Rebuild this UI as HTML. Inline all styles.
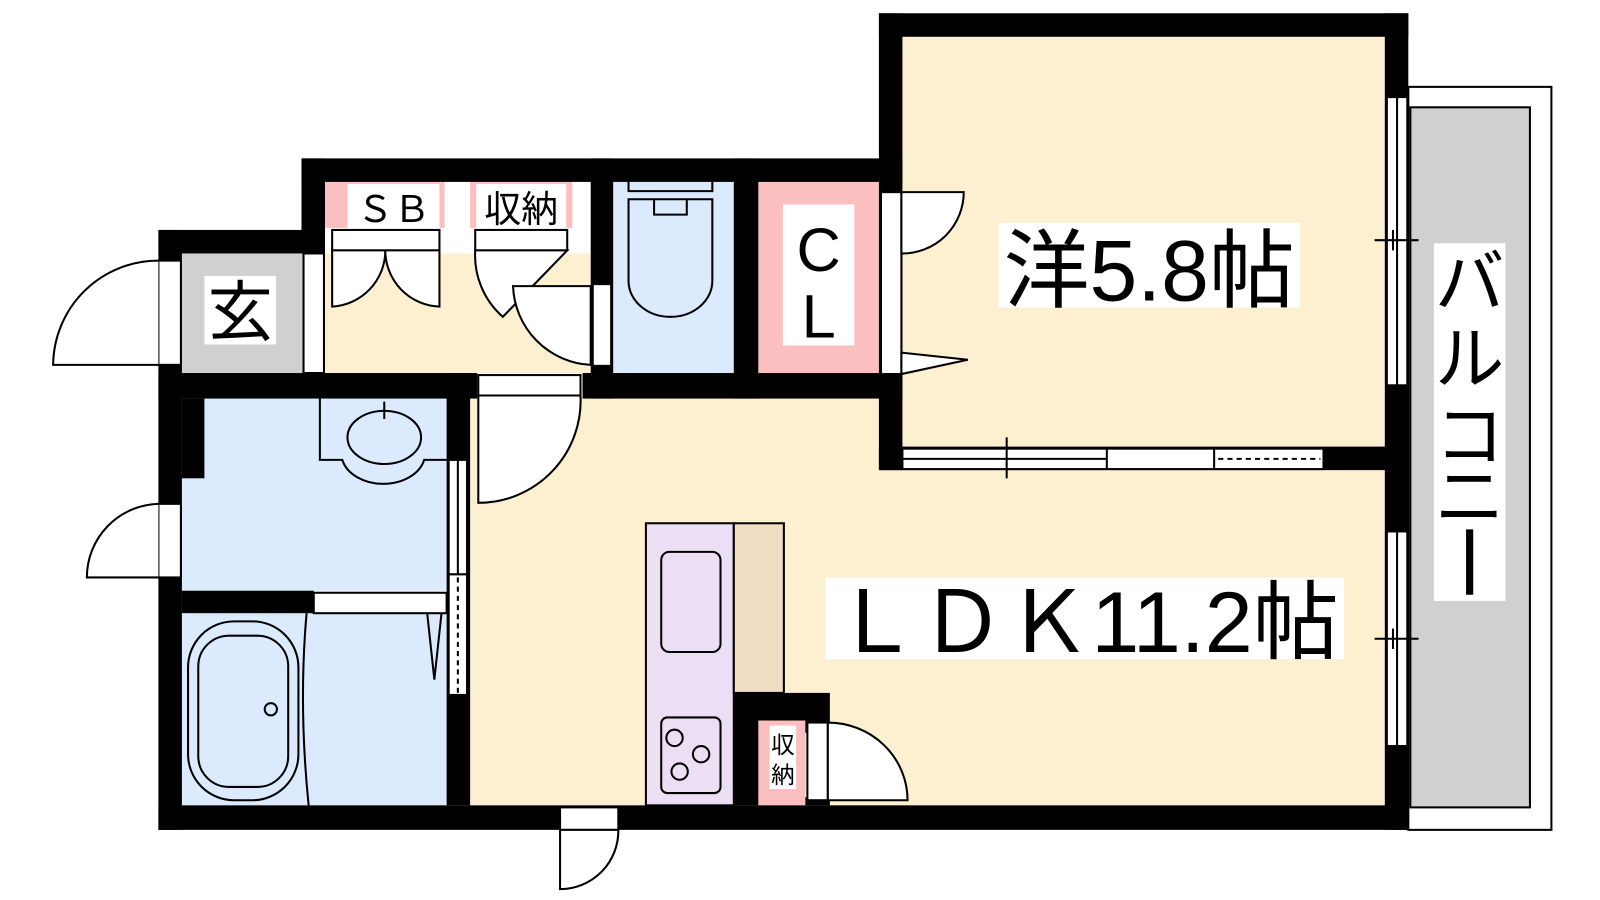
<!DOCTYPE html>
<html><head><meta charset="utf-8"><style>html,body{margin:0;padding:0;background:#fff}svg{display:block}</style></head><body>
<svg width="1600" height="900" viewBox="0 0 1600 900" xmlns="http://www.w3.org/2000/svg" font-family="'Liberation Sans','Noto Sans CJK JP',sans-serif">
<rect width="1600" height="900" fill="#fff"/>
<g transform="scale(1.022)">
<rect x="883" y="36" width="472" height="402" fill="#fdf0d1"/>
<rect x="460" y="390" width="895" height="398" fill="#fdf0d1"/>
<rect x="318" y="248" width="260" height="117" fill="#fdf0d1"/>
<rect x="178" y="248" width="118" height="117" fill="#d0d0d0"/>
<rect x="600" y="178" width="118" height="187" fill="#dbeafd"/>
<rect x="742" y="178" width="118" height="187" fill="#fbbfbf"/>
<rect x="318" y="178" width="117" height="45" fill="#fbbfbf"/>
<rect x="460" y="178" width="100" height="45" fill="#fbbfbf"/>
<rect x="178" y="390" width="259" height="188" fill="#dbeafd"/>
<rect x="178" y="600" width="259" height="188" fill="#dbeafd"/>
<rect x="632" y="512" width="86" height="276" fill="#ecdff5" stroke="#000" stroke-width="2"/>
<rect x="718" y="512" width="49" height="166" fill="#efdec3" stroke="#000" stroke-width="2"/>
<rect x="742" y="705" width="46" height="83" fill="#fbbfbf"/>
<rect x="1378" y="85" width="140" height="727" fill="#fff" stroke="#000" stroke-width="2"/>
<rect x="1380" y="105" width="117" height="685" fill="#d0d0d0" stroke="#000" stroke-width="2"/>
<g fill="#000">
<rect x="860" y="13" width="518" height="23"/>
<rect x="860" y="13" width="23" height="447"/>
<rect x="1355" y="13" width="23" height="799"/>
<rect x="295" y="155" width="588" height="23"/>
<rect x="295" y="155" width="23" height="93"/>
<rect x="155" y="225" width="163" height="23"/>
<rect x="155" y="225" width="23" height="587"/>
<rect x="155" y="788" width="1223" height="24"/>
<rect x="155" y="365" width="312" height="25"/>
<rect x="570" y="365" width="313" height="25"/>
<rect x="578" y="155" width="22" height="235"/>
<rect x="718" y="155" width="24" height="235"/>
<rect x="437" y="365" width="23" height="423"/>
<rect x="178" y="390" width="22" height="78"/>
<rect x="178" y="578" width="129" height="22"/>
<rect x="860" y="437" width="518" height="23"/>
<rect x="718" y="678" width="94" height="27"/>
<rect x="718" y="705" width="24" height="83"/>
<rect x="788" y="705" width="24" height="12"/>
<rect x="788" y="780" width="24" height="8"/>
</g>
<g fill="#fff" stroke="#000" stroke-width="2">
<rect x="155" y="255" width="22" height="102"/>
<rect x="155" y="493" width="22" height="72"/>
<rect x="297" y="248" width="20" height="117"/>
<rect x="325" y="225" width="105" height="20"/>
<rect x="465" y="225" width="90" height="20"/>
<rect x="580" y="278" width="18" height="80"/>
<rect x="468" y="367" width="100" height="20"/>
<rect x="862" y="188" width="20" height="178"/>
<rect x="439" y="450" width="18" height="112"/>
<rect x="439" y="562" width="18" height="118"/>
<rect x="307" y="580" width="130" height="20"/>
<rect x="548" y="790" width="57" height="22"/>
<rect x="790" y="707" width="20" height="76"/>
<rect x="1357" y="95" width="20" height="282"/>
<rect x="1357" y="520" width="20" height="210"/>
<rect x="883" y="439" width="412" height="20"/>
</g>
<g fill="none" stroke="#000" stroke-width="2">
<line x1="1367" y1="95" x2="1367" y2="377"/><line x1="1367" y1="520" x2="1367" y2="730"/>
<line x1="1345" y1="235" x2="1388" y2="235"/><line x1="1363" y1="225" x2="1363" y2="245"/>
<line x1="1345" y1="625" x2="1388" y2="625"/><line x1="1363" y1="615" x2="1363" y2="635"/>
<line x1="883" y1="449" x2="1083" y2="449"/><line x1="1083" y1="439" x2="1083" y2="459"/><line x1="1188" y1="439" x2="1188" y2="459"/>
<line x1="985" y1="428" x2="985" y2="468"/>
<line x1="1192" y1="449" x2="1292" y2="449" stroke-dasharray="5,4"/>
<line x1="448" y1="565" x2="448" y2="678" stroke-dasharray="5,4"/>
<line x1="448" y1="450" x2="448" y2="562"/>
<path d="M155 357 L52 357 A103 103 0 0 1 155 255" fill="#fff"/>
<path d="M155 565 L85 565 A72 72 0 0 1 155 493" fill="#fff"/>
<path d="M325 245 L325 300 A55 55 0 0 0 377 245 Z" fill="#fff"/>
<path d="M430 245 L430 300 A55 55 0 0 1 377 245 Z" fill="#fff"/>
<path d="M465 245 A80 80 0 0 0 492 310 L555 245 Z" fill="#fff"/>
<path d="M578 357 A80 80 0 0 1 502 280 L578 280 Z" fill="#fff"/>
<path d="M468 387 L568 387 A100 100 0 0 1 468 492 Z" fill="#fff"/>
<path d="M882 188 L943 188 A60 60 0 0 1 882 248 Z" fill="#fff"/>
<path d="M882 345 L947 352 L882 366 Z" fill="#fff"/>
<path d="M548 812 L548 870 A57 57 0 0 0 605 812 Z" fill="#fff"/>
<path d="M810 707 A78 76 0 0 1 888 783 L810 783 Z" fill="#fff"/>
<path d="M418 600 L425 665 L432 600"/>
<path d="M615 178 L615 187 L697 187 L697 178"/>
<path d="M615 195 L697 195 L697 275 A41 35 0 0 1 615 275 Z"/>
<path d="M640 195 L640 210 L672 210 L672 195"/>
<path d="M313 390 L313 450 L335 450 A41 30 0 0 0 415 450 L437 450"/>
<ellipse cx="376" cy="428" rx="36" ry="26"/>
<line x1="376" y1="393" x2="376" y2="410"/>
<rect x="184" y="608" width="108" height="175" rx="45"/>
<rect x="194" y="622" width="88" height="148" rx="30"/>
<circle cx="265" cy="694" r="6"/>
<path d="M300 600 Q292 690 302 788"/>
<rect x="647" y="540" width="58" height="98" rx="8"/>
<rect x="647" y="702" width="58" height="74" rx="6"/>
<circle cx="660" cy="722" r="8"/><circle cx="686" cy="738" r="8"/><circle cx="665" cy="755" r="8"/>
</g>
<rect x="340" y="180" width="90" height="43" fill="#fff"/>
<text x="385" y="217" font-size="36" text-anchor="middle">ＳＢ</text>
<rect x="466" y="180" width="88" height="43" fill="#fff"/>
<text x="510" y="217" font-size="36" text-anchor="middle">収納</text>
<rect x="200" y="270" width="70" height="67" fill="#fff"/>
<text x="235" y="328" font-size="64" text-anchor="middle">玄</text>
<rect x="766" y="200" width="70" height="138" fill="#fff"/>
<text x="801" y="265" font-size="60" text-anchor="middle">C</text>
<text x="801" y="330" font-size="60" text-anchor="middle">L</text>
<rect x="753" y="710" width="26" height="62" fill="#fff"/>
<text x="766" y="737" font-size="23" text-anchor="middle">収</text>
<text x="766" y="766" font-size="23" text-anchor="middle">納</text>
<rect x="977" y="218" width="295" height="83" fill="#fff"/>
<text x="982" y="294" font-size="84" textLength="285" lengthAdjust="spacingAndGlyphs">洋5.8帖</text>
<rect x="808" y="565" width="507" height="80" fill="#fff"/>
<text x="815" y="638" font-size="84" textLength="495" lengthAdjust="spacingAndGlyphs">ＬＤＫ11.2帖</text>
<rect x="1403" y="238" width="70" height="350" fill="#fff"/>
<text x="1438" y="300" font-size="68" text-anchor="middle">バ</text>
<text x="1438" y="375" font-size="68" text-anchor="middle">ル</text>
<text x="1438" y="450" font-size="68" text-anchor="middle">コ</text>
<text x="1438" y="510" font-size="68" text-anchor="middle">ニ</text>
<line x1="1438" y1="518" x2="1438" y2="582" stroke="#000" stroke-width="7"/>
</g>
</svg>
</body></html>
